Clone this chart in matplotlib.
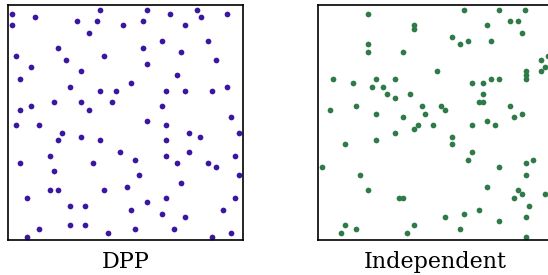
import matplotlib.pyplot as plt

# point positions in the unit box (0..235 on both axes)
dpp_x = [4, 26.7, 92.3, 4, 69.3, 88.7, 115.3, 80.7, 50, 7.7, 96.3, 57.7, 23, 73, 11.7,
         122.5, 61.7, 92.3, 107.7, 46.3, 73, 104, 11.7, 23, 80.7, 7.7, 31,
         138.7, 161.7, 188.7, 192.7, 219.3, 134.7, 177, 154, 200, 134.7, 173.3, 138.7,
         207.7, 169.3, 158, 177, 204, 219.3, 154, 138.7, 158, 223.3,
         54, 50, 73, 92.3, 111.7, 11.7, 42.3, 46.3, 85, 42.3, 50, 96.3, 119.3, 19.3,
         61.7, 77, 122.5, 61.7, 77, 31, 19.3, 100,
         181, 192.3, 231, 158, 181, 127, 158, 169.3, 200, 207.7, 227, 131, 231, 173,
         138.7, 158, 227, 154, 177, 215.3, 127, 165.7, 204, 223.3]
dpp_y = [226.3, 222.7, 230.3, 215, 218.7, 218.7, 215, 207.3, 191.7, 184.3, 184.3, 180.3,
         172.7, 168.7, 161, 157.3, 153.3, 149.3, 149.3, 138, 138, 138, 130.3, 134, 130.3,
         115, 115,
         230.3, 226.3, 230.3, 222.7, 226.3, 218.7, 215, 199.3, 199.3, 191.7, 188, 176.3,
         180.3, 165, 149.3, 149.3, 149.3, 153.3, 134, 118.7, 115, 122.7,
         107.3, 99.7, 103.3, 99.7, 88, 76.7, 84.3, 69, 76.7, 49.7, 49.7, 49.7, 53.3, 42,
         34, 34, 30.3, 15, 15, 11, 3.3, 7.3,
         107.3, 103.3, 107.3, 99.7, 88, 80.3, 84.3, 76.7, 76.7, 72.7, 84.3, 65, 65, 57.3,
         38, 42, 42, 26.3, 22.7, 30.3, 11, 11, 3.3, 7.3]

ind_x = [50, 96, 96, 50, 50, 84.7, 15.3, 34.7, 57.7, 53.7, 65.3, 77, 69.3, 77, 92.3,
         103.7, 107.3, 11.7, 38.3, 57.7, 84.7, 100,
         146, 180.7, 207.3, 169, 192, 199.7, 203.7, 134.3, 142.3, 149.7, 173, 230.3, 223,
         227, 223, 207.7, 207.7, 207.7, 119.3, 153.7, 165.3, 173, 180.7, 165.3, 161.3,
         165.3, 122.7, 126.7, 192.3, 196, 203.7, 169, 115, 153.7, 176.7,
         96, 77, 57.7, 26.7, 4, 42.3, 50, 80.7, 84.7, 26.7, 23, 38.3, 96.3, 88.7,
         134.3, 134.3, 153.7, 149.7, 180.7, 207.7, 215.3, 207.7, 169, 200, 203.7, 196,
         227, 211.3, 161.3, 146, 126.7, 207.7, 180.7, 142.3, 207.7]
ind_y = [226.3, 215, 211, 195.7, 188, 188, 161, 157.3, 161, 153.3, 153.3, 161, 145.7,
         141.7, 145.7, 134, 126.3, 130.3, 134, 126.3, 122.7, 115,
         230.3, 230.3, 230.3, 215, 218.7, 218.7, 207.3, 203.3, 195.7, 199.3, 199.3, 184.3,
         180.3, 172.7, 168.7, 168.7, 165, 161, 168.7, 157.3, 157.3, 161, 161, 145.7, 138,
         138, 134, 130.3, 134, 122.7, 126.3, 118.7, 115, 115, 115,
         111, 107.3, 99.7, 95.7, 72.7, 65, 49.7, 42, 42, 15, 7, 11, 15, 7,
         103.3, 95.7, 88, 80.3, 72.7, 76.7, 80.3, 65, 53.3, 49.7, 45.7, 42,
         45.7, 34, 30.3, 26.3, 22.7, 22.7, 18.7, 11, 3.3]

titles = ["DPP", "Independent"]
colors = ["#3b16a0", "#2e7b48"]

fig = plt.figure(figsize=(5.48, 2.75), dpi=100)

W, H = 548, 275
side = 235
boxes = [(8, 5), (318, 5)]  # top-left pixel corner of each panel
series = [(dpp_x, dpp_y), (ind_x, ind_y)]

for (px, py), (xs, ys), title, color in zip(boxes, series, titles, colors):
    ax = fig.add_axes([px / W, (H - py - side) / H, side / W, side / H])
    ax.scatter(xs, ys, s=17, color=color, linewidths=0, clip_on=False)
    ax.set_xlim(0, side)
    ax.set_ylim(0, side)
    ax.set_xticks([])
    ax.set_yticks([])
    for sp in ax.spines.values():
        sp.set_linewidth(1.2)
        sp.set_color("black")
    ax.text(0.5, -0.119, title, transform=ax.transAxes, ha="center",
            va="baseline", fontsize=16, family="DejaVu Serif")

fig.savefig("out.png", dpi=100)
